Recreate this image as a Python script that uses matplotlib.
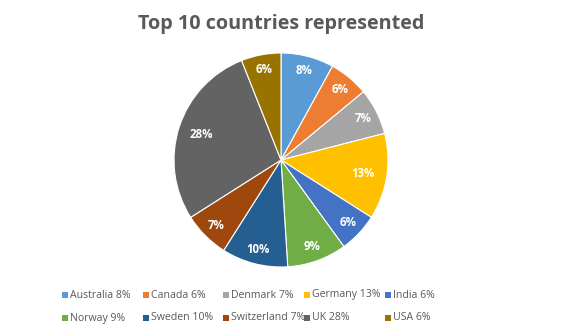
import matplotlib.pyplot as plt
from matplotlib.patches import Rectangle
import numpy as np

countries = ['Australia', 'Canada', 'Denmark', 'Germany', 'India',
             'Norway', 'Sweden', 'Switzerland', 'UK', 'USA']
shares = [8, 6, 7, 13, 6, 9, 10, 7, 28, 6]
colors = ['#5B9BD5', '#ED7D31', '#A5A5A5', '#FFC000', '#4472C4',
          '#70AD47', '#255E91', '#9E480E', '#636363', '#997300']

W, H = 565, 336


def main():
    plt.rcParams['font.family'] = ['Open Sans', 'DejaVu Sans']
    fig = plt.figure(figsize=(W / 100, H / 100), dpi=100)
    fig.patch.set_facecolor('white')

    fig.text(281 / W, 1 - 24 / H, 'Top 10 countries represented', ha='center', va='center',
             fontsize=14.2, fontweight='bold', color='#595959')

    ax = fig.add_axes([174 / W, 69 / H, 214 / W, 214 / H])
    wedges, _ = ax.pie(shares, colors=colors, startangle=90, counterclock=False,
                       wedgeprops=dict(edgecolor='white', linewidth=0.8))
    ax.set_xlim(-1, 1)
    ax.set_ylim(-1, 1)
    ax.set_aspect('equal')
    ax.axis('off')

    # percentage labels inside slices
    for w, s in zip(wedges, shares):
        mid = np.deg2rad((w.theta1 + w.theta2) / 2)
        r = 0.78 if s > 12 else 0.86
        ax.text(r * np.cos(mid), r * np.sin(mid), '%d%%' % s, ha='center', va='center',
                fontsize=8.3, fontweight='bold', color='white')

    # legend, two rows of five equal columns
    for i, (c, s, col) in enumerate(zip(countries, shares, colors)):
        row, k = divmod(i, 5)
        x = 62 + k * 80.7
        y = 295 + row * 23
        fig.add_artist(Rectangle((x / W, 1 - (y + 3) / H), 6 / W, 6 / H,
                                 transform=fig.transFigure, facecolor=col, edgecolor='none'))
        fig.text((x + 8) / W, 1 - y / H, '%s %d%%' % (c, s), ha='left', va='center',
                 fontsize=7.6, color='#595959')

    fig.savefig('out.png', dpi=100, facecolor='white')


if __name__ == '__main__':
    main()
